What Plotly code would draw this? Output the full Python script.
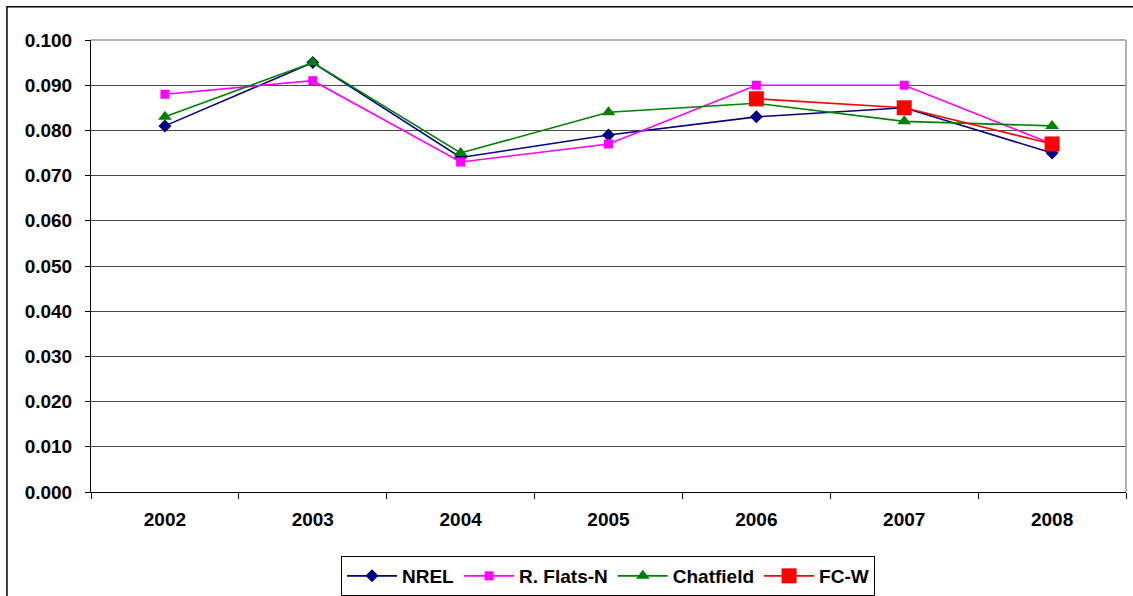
import plotly.graph_objects as go

years = ["2002", "2003", "2004", "2005", "2006", "2007", "2008"]
nrel = [0.081, 0.095, 0.074, 0.079, 0.083, 0.085, 0.075]
rflats = [0.088, 0.091, 0.073, 0.077, 0.090, 0.090, 0.077]
chatfield = [0.083, 0.095, 0.075, 0.084, 0.086, 0.082, 0.081]
fcw = [None, None, None, None, 0.087, 0.085, 0.077]
y_ticks = [0.0, 0.01, 0.02, 0.03, 0.04, 0.05, 0.06, 0.07, 0.08, 0.09, 0.10]

FONT = "Liberation Sans, Arial, sans-serif"

fig = go.Figure()
fig.add_trace(go.Scatter(x=years, y=nrel, name="NREL", mode="lines+markers",
                         line=dict(color="#000080", width=1.6),
                         marker=dict(symbol="diamond", size=10, color="#000080")))
fig.add_trace(go.Scatter(x=years, y=rflats, name="R. Flats-N", mode="lines+markers",
                         line=dict(color="#FF00FF", width=1.6),
                         marker=dict(symbol="square", size=9, color="#FF00FF")))
fig.add_trace(go.Scatter(x=years, y=chatfield, name="Chatfield", mode="lines+markers",
                         line=dict(color="#008000", width=1.6),
                         marker=dict(symbol="triangle-up", size=12, color="#008000")))
fig.add_trace(go.Scatter(x=years, y=fcw, name="FC-W", mode="lines+markers",
                         line=dict(color="#FF0000", width=1.6),
                         marker=dict(symbol="square", size=15, color="#FF0000")))

fig.update_layout(
    width=1133, height=596,
    margin=dict(l=91, r=7, t=40, b=104, autoexpand=False),
    paper_bgcolor="white", plot_bgcolor="white",
    font=dict(family=FONT, size=19, color="black"),
    showlegend=True,
    hovermode=False,
    legend=dict(orientation="h", xref="container", yref="container",
                x=0.5366, xanchor="center", y=0.0671, yanchor="top",
                bordercolor="black", borderwidth=1, bgcolor="white",
                font=dict(family=FONT, size=19, color="black", weight="bold"),
                itemwidth=50, tracegroupgap=0),
    xaxis=dict(type="category", showgrid=False, showline=True, linecolor="black", linewidth=1,
               ticks="outside", tickson="boundaries", ticklen=6, tickcolor="black",
               tickfont=dict(family=FONT, size=19, color="black", weight="bold"),
               ticklabelstandoff=10,
               range=[-0.5, 6.5], fixedrange=True, automargin=False),
    yaxis=dict(range=[0, 0.1], tickvals=y_ticks, tickformat=".3f",
               showgrid=True, gridcolor="#4a4a4a", gridwidth=1,
               showline=True, linecolor="black", linewidth=1,
               ticks="outside", ticklen=5, tickcolor="black",
               tickfont=dict(family=FONT, size=19, color="black", weight="bold"),
               ticklabelstandoff=9,
               zeroline=False, fixedrange=True, automargin=False),
    shapes=[
        dict(type="line", xref="paper", yref="paper", x0=0, x1=1, y0=1, y1=1,
             line=dict(color="#999999", width=1.5)),
        dict(type="line", xref="paper", yref="paper", x0=1, x1=1, y0=0, y1=1,
             line=dict(color="#999999", width=1.5)),
        dict(type="rect", xref="paper", yref="paper", x0=-0.0812, x1=1.2, y0=-0.3, y1=1.0735,
             line=dict(color="black", width=1.5), fillcolor="rgba(0,0,0,0)"),
    ],
)

fig.write_html("out.html", config={"displayModeBar": False, "staticPlot": True},
               post_script="document.body.style.margin='0';document.body.style.overflow='hidden';")
